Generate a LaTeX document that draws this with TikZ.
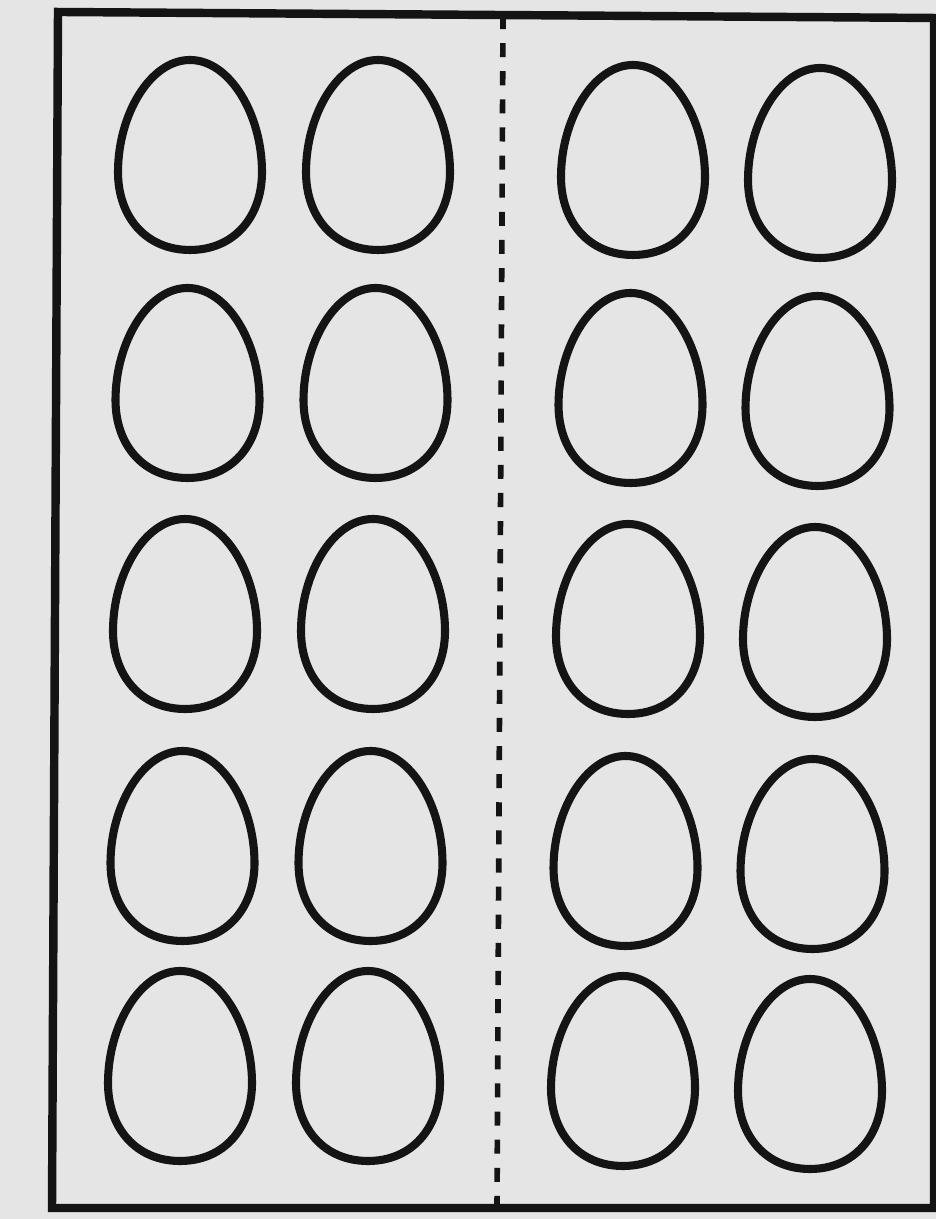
\documentclass[tikz,border=0pt]{standalone}
\usepackage{tikz}

\definecolor{paper}{RGB}{229,229,229}
\definecolor{ink}{RGB}{20,20,20}

\tikzset{
    egg/.pic={
        \draw[eggline] (0,-0.95) .. controls (0.44,-0.95) and (0.72,-0.62) .. (0.72,-0.17)
            .. controls (0.72,0.4) and (0.4,0.95) .. (0,0.95)
            .. controls (-0.4,0.95) and (-0.72,0.4) .. (-0.72,-0.17)
            .. controls (-0.72,-0.62) and (-0.44,-0.95) .. cycle;
    }
}

\begin{document}
\begin{tikzpicture}[
    % Bandeja y huevos
    tray/.style={draw=ink, line width=2.4pt, line join=miter},
    divider/.style={draw=ink, line width=1.6pt, dash pattern=on 4pt off 4pt},
    eggline/.style={draw=ink, line width=2.3pt}
]

% --- Fondo ---
\useasboundingbox (0,0) rectangle (9.36,12.19);
\fill[paper] (0,0) rectangle (9.36,12.19);

% --- Esquinas de la bandeja ---
\coordinate (tl) at (0.58,12.07);
\coordinate (tr) at (9.34,12.01);
\coordinate (br) at (9.34,0.11);
\coordinate (bl) at (0.52,0.11);
\coordinate (dtop) at (5.03,12.04);
\coordinate (dbot) at (4.97,0.11);

\draw[tray] (tl) -- (tr) -- (br) -- (bl) -- cycle;
\draw[divider] (dtop) -- (dbot);

% --- Huevos: 5 filas, 4 columnas ---
\foreach \r/\ey in {1/10.64, 2/8.36, 3/6.05, 4/3.73, 5/1.53} {
    \foreach \c/\ex/\dy in {1/1.85/0, 2/3.73/0, 3/6.28/-0.05, 4/8.15/-0.08} {
        \pic (e-\r-\c) at ({\ex+0.025*(3-\r)},{\ey+\dy}) {egg};
    }
}

\end{tikzpicture}
\end{document}
